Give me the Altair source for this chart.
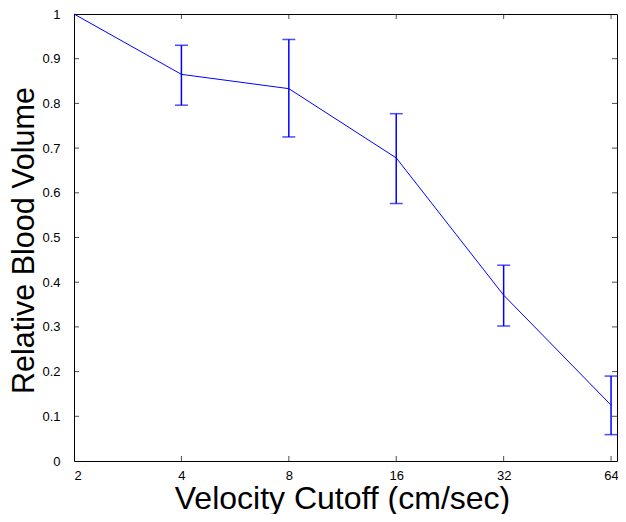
import altair as alt
import pandas as pd

# data
velocity = [2, 4, 8, 16, 32, 64]
volume = [1.0, 0.865, 0.833, 0.678, 0.371, 0.125]

err_velocity = [4, 8, 16, 32, 64]
err_low = [0.796, 0.725, 0.576, 0.302, 0.059]
err_high = [0.930, 0.943, 0.777, 0.438, 0.190]

x_ticks = [2, 4, 8, 16, 32, 64]
y_ticks = [0, 0.1, 0.2, 0.3, 0.4, 0.5, 0.6, 0.7, 0.8, 0.9, 1.0]
x_inner_ticks = [4, 8, 16, 32, 64]
y_inner_ticks = [0.1, 0.2, 0.3, 0.4, 0.5, 0.6, 0.7, 0.8, 0.9]
x_min, x_max = 2, 66.5

line_df = pd.DataFrame({"v": velocity, "vol": volume})
err_df = pd.DataFrame({"v": err_velocity, "lo": err_low, "hi": err_high})
xt_df = pd.DataFrame({"v": x_inner_ticks})
yt_df = pd.DataFrame({"vol": y_inner_ticks})

FONT = "Liberation Sans"
BLUE = "#0000ff"
PLOT_W, PLOT_H = 543, 447

xscale = alt.Scale(type="log", base=2, domain=[x_min, x_max], nice=False)
yscale = alt.Scale(domain=[0, 1], nice=False)

xaxis = alt.Axis(
    values=x_ticks, format="d", ticks=False, domain=False, grid=False,
    labelPadding=8, labelFontSize=13, labelFont=FONT, labelColor="black",
    title="Velocity Cutoff (cm/sec)", titleFont=FONT, titleFontSize=32,
    titleFontWeight="normal", titleColor="black", titleBaseline="alphabetic",
    titleY=47, titleX=268,
)
yaxis = alt.Axis(
    values=y_ticks, format=".1~f", ticks=False, domain=False, grid=False,
    labelPadding=14, labelFontSize=13, labelFont=FONT, labelColor="black",
    title="Relative Blood Volume", titleFont=FONT, titleFontSize=30.5,
    titleFontWeight="normal", titleColor="black", titleBaseline="alphabetic",
    titleX=-41, titleY=226, titleAngle=270,
)

line = alt.Chart(line_df).mark_line(color=BLUE, strokeWidth=1).encode(
    x=alt.X("v:Q", scale=xscale, axis=xaxis),
    y=alt.Y("vol:Q", scale=yscale, axis=yaxis),
)

bars = alt.Chart(err_df).mark_rule(color=BLUE, strokeWidth=1.5).encode(
    x="v:Q", y="lo:Q", y2="hi:Q"
)

caps = alt.Chart(err_df).transform_fold(["lo", "hi"], as_=["k", "val"]).mark_tick(
    orient="horizontal", color=BLUE, size=13, thickness=1.5
).encode(x="v:Q", y="val:Q")

tick_style = dict(color="black", thickness=1, size=5)
bottom_ticks = alt.Chart(xt_df).mark_tick(orient="vertical", yOffset=-2.5, **tick_style).encode(
    x="v:Q", y=alt.datum(0))
top_ticks = alt.Chart(xt_df).mark_tick(orient="vertical", yOffset=2.5, **tick_style).encode(
    x="v:Q", y=alt.datum(1))
left_ticks = alt.Chart(yt_df).mark_tick(orient="horizontal", xOffset=2.5, **tick_style).encode(
    x=alt.datum(x_min), y="vol:Q")
right_ticks = alt.Chart(yt_df).mark_tick(orient="horizontal", xOffset=-2.5, **tick_style).encode(
    x=alt.datum(x_max), y="vol:Q")

chart = alt.layer(
    bottom_ticks, top_ticks, left_ticks, right_ticks, line, bars, caps
).properties(
    width=PLOT_W, height=PLOT_H,
    autosize=alt.AutoSizeParams(type="none"),
    padding={"left": 66, "top": 6, "right": 1, "bottom": 53},
    background="white",
).configure_view(stroke="black", strokeWidth=1)

chart.save("out.html", embed_options={"renderer": "svg", "actions": False})
